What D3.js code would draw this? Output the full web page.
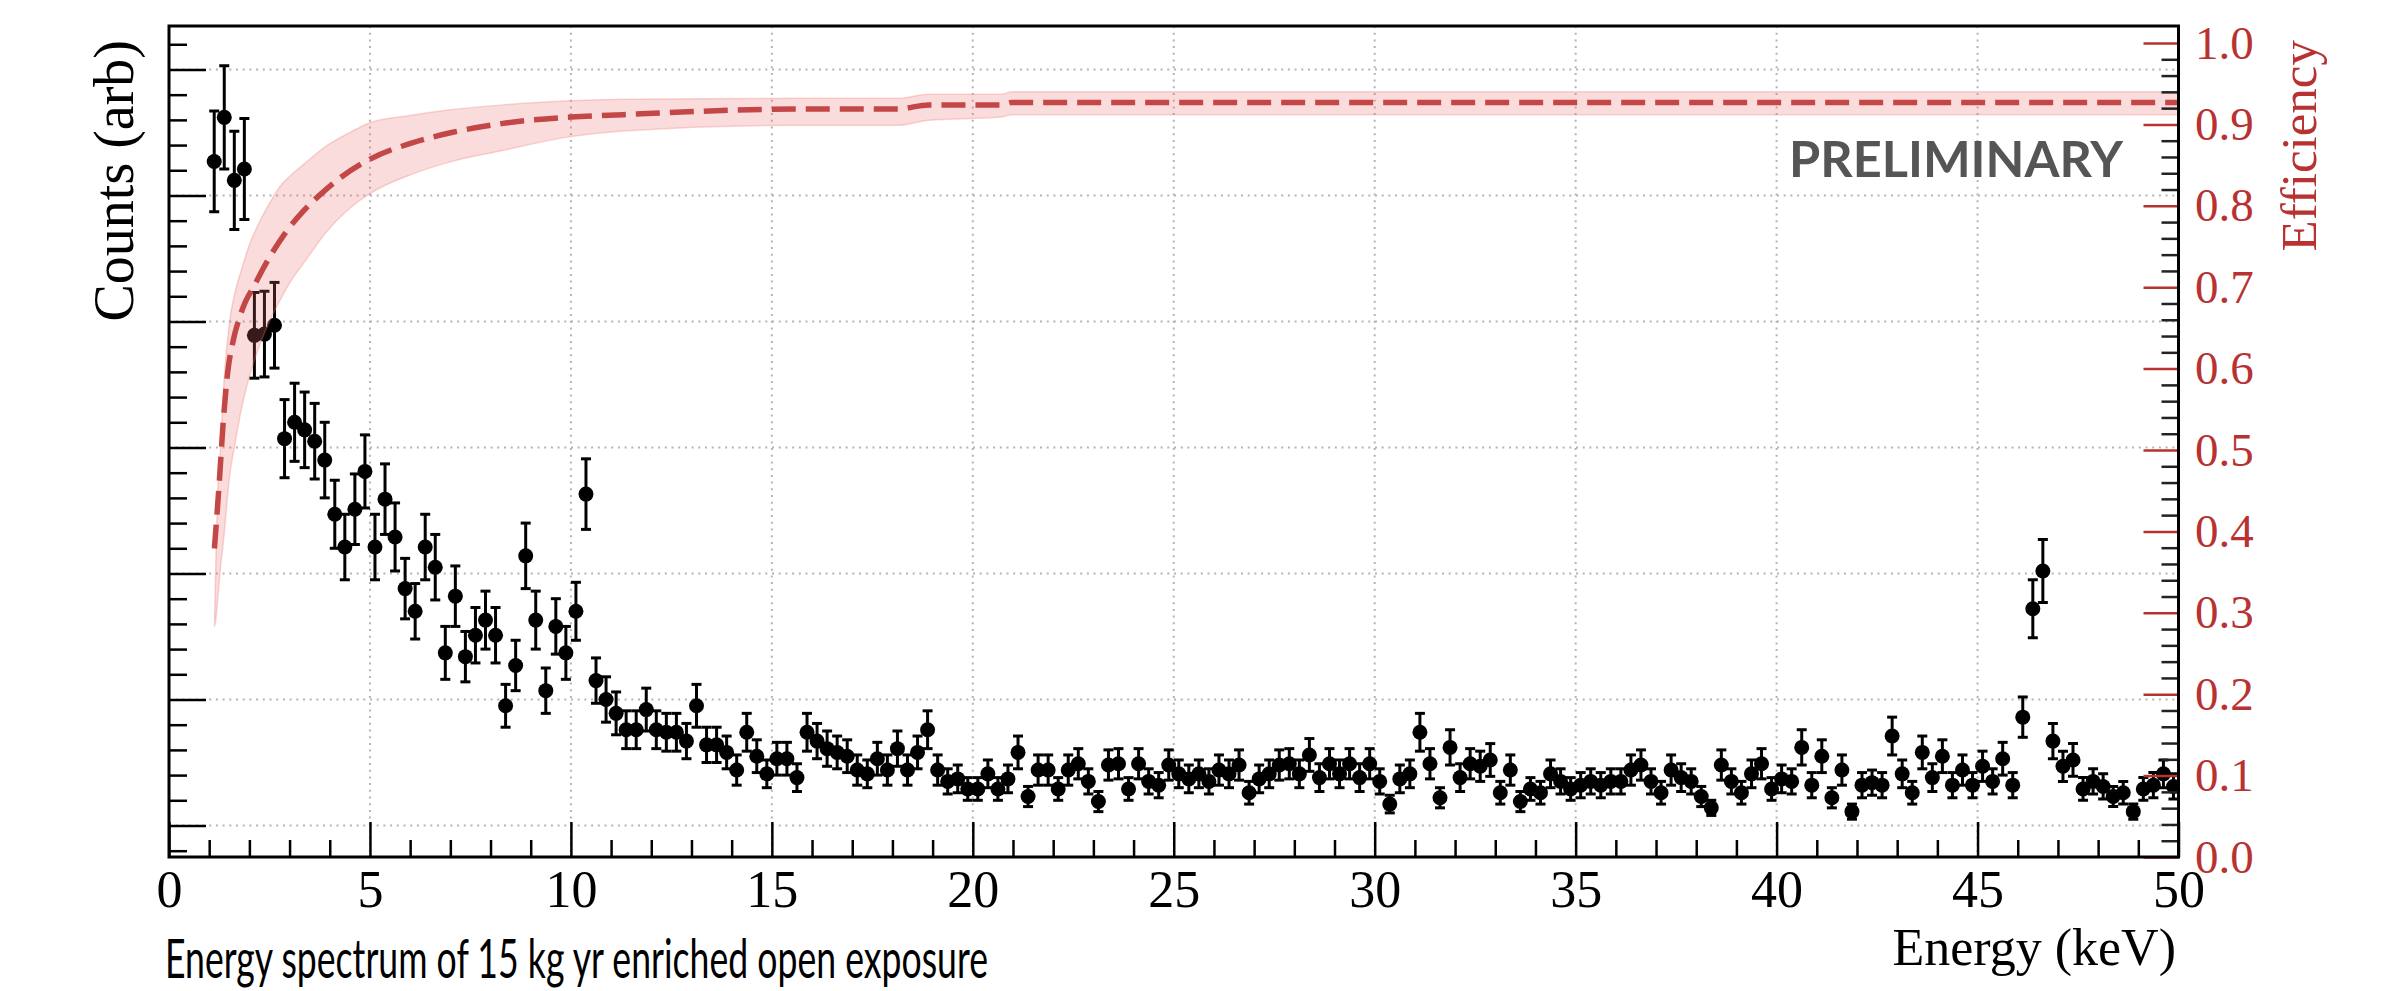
<!DOCTYPE html>
<html><head><meta charset="utf-8">
<script src="https://cdn.jsdelivr.net/npm/d3@7"></script>
<style>body{margin:0;background:#fff;} svg{display:block;}</style>
</head><body>
<svg id="chart" width="2402" height="991"></svg>
<script>
// ---------------- data ----------------
// histogram binning (keV)
const binStart = 1.0;
const binWidth = 0.25;
// counts per bin (arbitrary units: 1 unit = one major grid step)
const counts = [
 5.27,5.62,5.12,5.21,3.89,3.90,3.97,3.07,3.20,3.14,3.05,2.90,2.47,2.21,2.51,2.81,2.21,2.59,2.29,1.88,
 1.70,2.21,2.05,1.37,1.82,1.34,1.51,1.63,1.51,0.95,1.27,2.14,1.63,1.07,1.58,1.37,1.70,2.63,1.15,1.00,
 0.89,0.76,0.76,0.92,0.76,0.74,0.74,0.67,0.95,0.64,0.64,0.58,0.44,0.74,0.55,0.41,0.53,0.53,0.38,0.74,
 0.67,0.61,0.58,0.55,0.44,0.41,0.53,0.44,0.61,0.44,0.58,0.76,0.44,0.35,0.37,0.29,0.29,0.41,0.29,0.37,0.58,
 0.23,0.44,0.44,0.29,0.44,0.49,0.35,0.19,0.48,0.49,0.29,0.49,0.35,0.32,0.48,0.41,0.37,0.41,0.35,0.44,
 0.41,0.48,0.26,0.37,0.41,0.48,0.49,0.41,0.56,0.38,0.49,0.41,0.49,0.38,0.49,0.35,0.17,
 0.37,0.41,0.74,0.49,0.22,0.62,0.38,0.49,0.47,0.52,0.26,0.44,0.19,0.29,0.26,0.41,0.35,0.29,0.32,0.35,
 0.32,0.35,0.35,0.44,0.48,0.35,0.26,0.44,0.38,0.35,0.23,0.14,0.48,0.35,0.26,0.41,0.49,0.29,0.37,
 0.35,0.62,0.32,0.55,0.22,0.44,0.11,0.32,0.34,0.32,0.71,0.41,0.26,0.58,0.38,0.55,0.32,0.44,0.32,0.47,
 0.35,0.53,0.32,0.86,1.72,2.02,0.67,0.47,0.52,0.29,0.35,0.31,0.23,0.26,0.11,0.29,0.32,0.41,0.31
];
const countErrors = [
 0.40,0.41,0.39,0.40,0.34,0.34,0.34,0.31,0.31,0.30,0.30,0.30,0.27,0.26,0.28,0.29,0.26,0.28,0.27,0.24,
 0.22,0.26,0.26,0.21,0.24,0.20,0.22,0.23,0.22,0.17,0.20,0.26,0.23,0.18,0.22,0.21,0.23,0.28,0.18,0.18,
 0.17,0.15,0.15,0.17,0.15,0.15,0.15,0.14,0.17,0.14,0.14,0.13,0.12,0.15,0.13,0.11,0.13,0.13,0.11,0.15,
 0.14,0.14,0.13,0.13,0.12,0.11,0.13,0.12,0.14,0.12,0.13,0.15,0.12,0.10,0.11,0.09,0.09,0.11,0.09,0.11,0.13,
 0.08,0.12,0.12,0.09,0.12,0.12,0.10,0.08,0.12,0.12,0.09,0.12,0.10,0.10,0.12,0.11,0.11,0.11,0.10,0.12,
 0.11,0.12,0.09,0.11,0.11,0.12,0.12,0.11,0.13,0.11,0.12,0.11,0.12,0.11,0.12,0.10,0.07,
 0.11,0.11,0.15,0.12,0.08,0.14,0.11,0.12,0.12,0.13,0.09,0.12,0.08,0.09,0.09,0.11,0.10,0.09,0.10,0.10,
 0.10,0.10,0.10,0.12,0.12,0.10,0.09,0.12,0.11,0.10,0.08,0.06,0.12,0.10,0.09,0.11,0.12,0.09,0.11,
 0.10,0.14,0.10,0.13,0.08,0.12,0.06,0.10,0.10,0.10,0.15,0.11,0.09,0.13,0.11,0.13,0.10,0.12,0.10,0.12,
 0.10,0.13,0.10,0.16,0.23,0.25,0.14,0.12,0.13,0.09,0.10,0.10,0.08,0.09,0.06,0.09,0.10,0.11,0.10
];
// efficiency curve (right axis)
const effEnergy = [1.13,1.25,1.35,1.46,1.6,1.75,1.9,2.1,2.4,2.87,3.37,3.79,4.28,5.03,6.03,7.03,8.27,10,11.3,15.75,18.15,18.9,20.72,20.97,50];
const effValue  = [0.379,0.46,0.535,0.595,0.635,0.662,0.682,0.70,0.728,0.765,0.795,0.815,0.835,0.858,0.877,0.89,0.901,0.909,0.912,0.919,0.919,0.924,0.924,0.927,0.927];
// efficiency uncertainty band
const bandEnergy = [1.13,1.16,1.2,1.28,1.36,1.5,1.65,1.8,2.0,2.25,2.5,2.75,3.0,3.4,3.9,4.5,5.0,6.0,7.0,8.3,10,11.3,15.75,18.15,18.9,20.72,20.97,50];
const bandUpper  = [0.283,0.35,0.43,0.50,0.578,0.655,0.695,0.721,0.752,0.78,0.803,0.823,0.836,0.853,0.873,0.89,0.902,0.911,0.918,0.924,0.929,0.931,0.932,0.932,0.937,0.937,0.940,0.940];
const bandLower  = [0.283,0.29,0.31,0.355,0.39,0.465,0.51,0.55,0.59,0.628,0.658,0.683,0.705,0.733,0.767,0.797,0.815,0.838,0.854,0.868,0.885,0.892,0.899,0.899,0.905,0.909,0.912,0.912];
// ticks
const xMajorTicks = [0,5,10,15,20,25,30,35,40,45,50];
const xTickLabels = ["0","5","10","15","20","25","30","35","40","45","50"];
const countMajorTicks = [0,1,2,3,4,5,6];
const effMajorTicks = [0,0.1,0.2,0.3,0.4,0.5,0.6,0.7,0.8,0.9,1.0];
const effTickLabels = ["0.0","0.1","0.2","0.3","0.4","0.5","0.6","0.7","0.8","0.9","1.0"];

// ---------------- layout ----------------
const plot = {left:169, right:2178.5, top:26, bottom:857};
const svg = d3.select("#chart");
const x = d3.scaleLinear().domain([0,50]).range([plot.left, plot.right]);
const y = d3.scaleLinear().domain([-0.25, 6.345]).range([plot.bottom, plot.top]);
const yEff = d3.scaleLinear().domain([0, 1.0209]).range([plot.bottom, plot.top]);
const RED = "#b83232";
const serif = "'Liberation Serif','DejaVu Serif',serif";

svg.append("defs").append("clipPath").attr("id","clip")
  .append("rect").attr("x",plot.left).attr("y",plot.top)
  .attr("width",plot.right-plot.left).attr("height",plot.bottom-plot.top);

// grid
const grid = svg.append("g").attr("stroke","#b4b4b4").attr("stroke-width",2).attr("stroke-dasharray","2,4.7");
grid.selectAll(".gx").data(xMajorTicks.filter(d=>d>0&&d<50)).join("line")
  .attr("x1",d=>x(d)).attr("x2",d=>x(d)).attr("y1",plot.top).attr("y2",plot.bottom);
grid.selectAll(".gy").data(countMajorTicks).join("line")
  .attr("x1",plot.left).attr("x2",plot.right).attr("y1",d=>y(d)).attr("y2",d=>y(d));

// data points with error bars
const pts = counts.map((c,i)=>({e: binStart + binWidth*(i+0.5), c, err: countErrors[i]}));
const gData = svg.append("g").attr("clip-path","url(#clip)");
const eb = gData.selectAll(".eb").data(pts).join("g");
eb.append("line").attr("x1",d=>x(d.e)).attr("x2",d=>x(d.e))
  .attr("y1",d=>y(d.c-d.err)).attr("y2",d=>y(d.c+d.err)).attr("stroke","#000").attr("stroke-width",3);
eb.append("line").attr("x1",d=>x(d.e)-5).attr("x2",d=>x(d.e)+5)
  .attr("y1",d=>y(d.c+d.err)).attr("y2",d=>y(d.c+d.err)).attr("stroke","#000").attr("stroke-width",3);
eb.append("line").attr("x1",d=>x(d.e)-5).attr("x2",d=>x(d.e)+5)
  .attr("y1",d=>y(d.c-d.err)).attr("y2",d=>y(d.c-d.err)).attr("stroke","#000").attr("stroke-width",3);
eb.append("circle").attr("cx",d=>x(d.e)).attr("cy",d=>y(d.c)).attr("r",7.5).attr("fill","#000");

// efficiency band and curve
const bandData = bandEnergy.map((e,i)=>({e, lo: bandLower[i], hi: bandUpper[i]}));
svg.append("path").datum(bandData).attr("clip-path","url(#clip)")
  .attr("d", d3.area().x(d=>x(d.e)).y0(d=>yEff(d.lo)).y1(d=>yEff(d.hi)).curve(d3.curveMonotoneX))
  .attr("fill","rgb(240,110,110)").attr("fill-opacity",0.24)
  .attr("stroke","rgb(240,120,120)").attr("stroke-opacity",0.3).attr("stroke-width",1.5);
const effData = effEnergy.map((e,i)=>({e, v: effValue[i]}));
svg.append("path").datum(effData).attr("clip-path","url(#clip)")
  .attr("d", d3.line().x(d=>x(d.e)).y(d=>yEff(d.v)).curve(d3.curveMonotoneX))
  .attr("fill","none").attr("stroke","#c44747").attr("stroke-width",5.5)
  .attr("stroke-dasharray","24,10");

// axes
function styleAxis(g, color){
  g.select(".domain").remove();
  g.selectAll("line").attr("stroke",color).attr("stroke-width",2.5);
}
// bottom
const xMinor = d3.range(1,50).filter(v=>v%5!==0);
svg.append("g").attr("transform",`translate(0,${plot.bottom})`)
  .call(d3.axisBottom(x).tickValues(xMinor).tickSize(-17).tickFormat(""))
  .call(g=>styleAxis(g,"#000"));
svg.append("g").attr("transform",`translate(0,${plot.bottom})`)
  .call(d3.axisBottom(x).tickValues(xMajorTicks).tickSize(-35).tickPadding(13)
     .tickFormat((d,i)=>xTickLabels[i]))
  .call(g=>styleAxis(g,"#000"))
  .call(g=>g.selectAll("text").attr("font-family",serif).attr("font-size",52).attr("fill","#000"));
// left
const yMinor = d3.range(-2,64).map(v=>v/10).filter(v=>v%1!==0 && v>-0.25 && v<6.345 && Math.round(v*10)%2===0);
svg.append("g").attr("transform",`translate(${plot.left},0)`)
  .call(d3.axisLeft(y).tickValues(yMinor).tickSize(-18).tickFormat(""))
  .call(g=>styleAxis(g,"#000"));
svg.append("g").attr("transform",`translate(${plot.left},0)`)
  .call(d3.axisLeft(y).tickValues(countMajorTicks).tickSize(-37).tickFormat(""))
  .call(g=>styleAxis(g,"#000"));
// right (efficiency)
const effMinor = d3.range(1,51).map(v=>v/50).filter(v=>Math.round(v*50)%5!==0);
svg.append("g").attr("transform",`translate(${plot.right},0)`)
  .call(d3.axisRight(yEff).tickValues(effMinor).tickSize(-17).tickFormat(""))
  .call(g=>styleAxis(g,"#222"));
svg.append("g").attr("transform",`translate(${plot.right},0)`)
  .call(d3.axisRight(yEff).tickValues(effMajorTicks).tickSize(-35).tickPadding(16.5)
     .tickFormat((d,i)=>effTickLabels[i]))
  .call(g=>styleAxis(g,RED))
  .call(g=>g.selectAll("text").attr("font-family",serif).attr("font-size",47).attr("fill",RED));

// frame
svg.append("rect").attr("x",plot.left).attr("y",plot.top)
  .attr("width",plot.right-plot.left).attr("height",plot.bottom-plot.top)
  .attr("fill","none").attr("stroke","#000").attr("stroke-width",3);

// titles
svg.append("text").attr("transform","translate(133,40) rotate(-90)")
  .attr("text-anchor","end").attr("font-family",serif).attr("font-size",56)
  .attr("fill","#000").text("Counts (arb)");
svg.append("text").attr("transform","translate(2316,40) rotate(-90)")
  .attr("text-anchor","end").attr("font-family",serif).attr("font-size",51)
  .attr("fill",RED).text("Efficiency");
svg.append("text").attr("x",2176).attr("y",965).attr("text-anchor","end")
  .attr("font-family",serif).attr("font-size",52).attr("fill","#000").text("Energy (keV)");
svg.append("text").attr("x",1789).attr("y",177).attr("font-family","Lato,'Open Sans',sans-serif")
  .attr("font-weight",700).attr("font-size",49).attr("fill","#555")
  .attr("textLength",334).attr("lengthAdjust","spacingAndGlyphs").text("PRELIMINARY");
svg.append("text").attr("x",165).attr("y",978).attr("font-family","Lato,'Open Sans',sans-serif")
  .attr("font-size",54).attr("fill","#000")
  .attr("textLength",823).attr("lengthAdjust","spacingAndGlyphs")
  .text("Energy spectrum of 15 kg yr enriched open exposure");
</script>
</body></html>
